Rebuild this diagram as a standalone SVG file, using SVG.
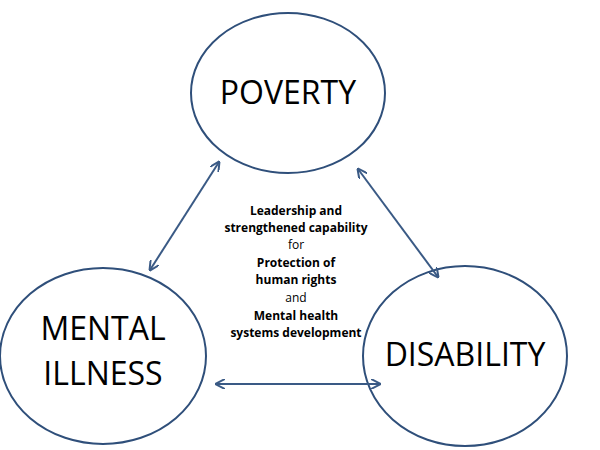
<svg xmlns="http://www.w3.org/2000/svg" width="600" height="450" viewBox="0 0 600 450">
<style>
.n{fill:#fff;stroke:#2f4f7a;stroke-width:2}
.t{font-family:"Open Sans","Liberation Sans",sans-serif;font-size:32px;fill:#000;text-anchor:middle}
.c{font-family:"Open Sans","Liberation Sans",sans-serif;font-size:12px;fill:#000;text-anchor:middle}
.b{font-weight:bold}
.a{stroke:#3a5a85;stroke-width:2;fill:none;marker-start:url(#h);marker-end:url(#h)}
</style>
<defs><marker id="h" viewBox="0 0 10 10" refX="9" refY="5" markerWidth="5" markerHeight="5" orient="auto-start-reverse" markerUnits="strokeWidth"><path d="M0,0L10,5L0,10" fill="none" stroke="#3a5a85" stroke-width="2"/></marker></defs>
<rect width="600" height="450" fill="#fff"/>
<g id="poverty"><ellipse class="n" cx="288" cy="93" rx="97" ry="80"/><text class="t" x="288" y="104">POVERTY</text></g>
<g id="mental"><ellipse class="n" cx="103" cy="356" rx="103" ry="88"/><text class="t" x="103" y="340">MENTAL</text><text class="t" x="103" y="385">ILLNESS</text></g>
<g id="disability"><ellipse class="n" cx="465" cy="356" rx="102" ry="90"/><text class="t" x="465" y="366">DISABILITY</text></g>
<g id="connectors">
<line class="a" x1="219" y1="162" x2="150" y2="270"/>
<line class="a" x1="358" y1="169" x2="438" y2="277"/>
<line class="a" x1="216" y1="384" x2="380" y2="384"/>
</g>
<g id="center">
<text class="c b" x="296" y="215">Leadership and</text>
<text class="c b" x="296" y="232">strengthened capability</text>
<text class="c" x="296" y="249">for</text>
<text class="c b" x="296" y="267">Protection of</text>
<text class="c b" x="296" y="284">human rights</text>
<text class="c" x="296" y="302">and</text>
<text class="c b" x="296" y="320">Mental health</text>
<text class="c b" x="296" y="337">systems development</text>
</g>
</svg>
